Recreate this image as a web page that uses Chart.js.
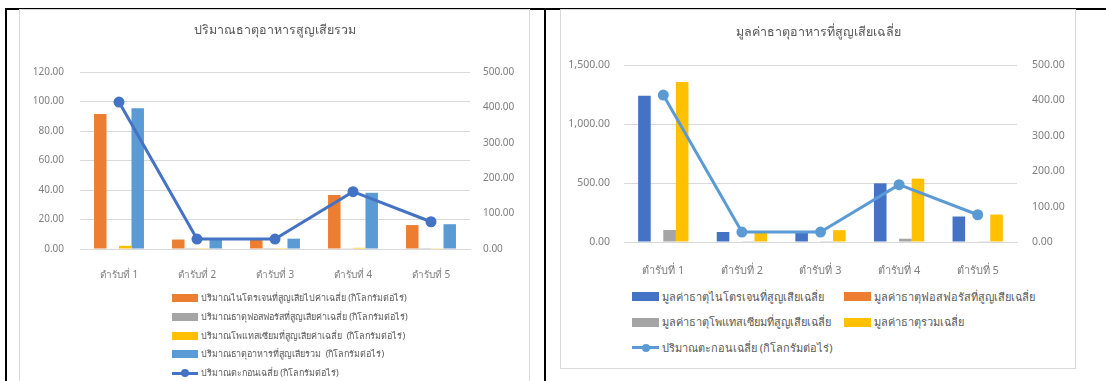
<!DOCTYPE html>
<html>
<head>
<meta charset="utf-8">
<script src="https://cdn.jsdelivr.net/npm/chart.js@4.4.1/dist/chart.umd.min.js"></script>
<style>
  body { margin: 0; background: #fff; width: 1106px; height: 381px; overflow: hidden; position: relative;
         font-family: Tahoma, "Noto Sans", "DejaVu Sans", sans-serif; }
  .linha { position: absolute; background: #000; }
  .caixa { position: absolute; border: 1px solid #d9d9d9; box-sizing: border-box; background: #fff; }
  .caixa canvas { position: absolute; left: 0; top: 0; }
  .legenda { position: absolute; display: grid; color: #595959; }
  .item { display: flex; align-items: center; white-space: pre; }
  .cor { display: inline-block; margin-right: 3px; position: relative; flex: none; }
  .ponto { position: absolute; left: 50%; top: 50%; width: 8px; height: 8px; border-radius: 50%; transform: translate(-50%, -50%); }
</style>
</head>
<body>
<!-- moldura da tabela -->
<div class="linha" style="left:5px; top:8px; width:1101px; height:2px;"></div>
<div class="linha" style="left:5px; top:8px; width:2px; height:373px;"></div>
<div class="linha" style="left:544px; top:8px; width:2px; height:373px;"></div>

<div class="caixa" id="caixa1" style="left:19px; top:9px; width:511px; height:380px;">
  <canvas id="grafico1" width="509" height="280"></canvas>
  <div class="legenda" id="legenda1" style="left:152px; top:279px; grid-template-columns: auto; grid-auto-rows: 18.7px; font-size:9px;"></div>
</div>

<div class="caixa" id="caixa2" style="left:560px; top:9px; width:516px; height:360px;">
  <canvas id="grafico2" width="514" height="272"></canvas>
  <div class="legenda" id="legenda2" style="left:71px; top:274px; grid-template-columns: 212px auto; grid-auto-rows: 25.5px; font-size:11px;"></div>
</div>

<script>
const categorias = ['ตำรับที่ 1', 'ตำรับที่ 2', 'ตำรับที่ 3', 'ตำรับที่ 4', 'ตำรับที่ 5'];

// grafico 1 - quantidade perdida (kg/rai)
const nitrogenioQtd = [91.5, 6.4, 7.3, 36.6, 16.2];
const fosforoQtd = [0.3, 0.1, 0.1, 0.2, 0.1];
const potassioQtd = [2.2, 0.1, 0.1, 0.8, 0.2];
const totalQtd = [95.4, 6.7, 7.0, 38.1, 16.8];
const sedimento = [415, 28, 28, 162, 77];

// grafico 2 - valor perdido
const nitrogenioValor = [1239, 85, 85, 497, 216];
const fosforoValor = [0, 0, 0, 0, 0];
const potassioValor = [102, 2, 2, 28, 6];
const totalValor = [1355, 88, 100, 537, 233];

const ticksEsq1 = [0, 20, 40, 60, 80, 100, 120];
const ticksEsq2 = [0, 500, 1000, 1500];
const ticksDir = [0, 100, 200, 300, 400, 500];

const fonte = 'Tahoma, "Noto Sans", "DejaVu Sans", sans-serif';
Chart.defaults.font.family = fonte;
Chart.defaults.color = '#7f7f7f';

function formatar(v) {
    return Number(v).toLocaleString('en-US', { minimumFractionDigits: 2, maximumFractionDigits: 2 });
}

function barra(label, data, cor) {
    return { type: 'bar', label, data, backgroundColor: cor, yAxisID: 'y', order: 1,
             categoryPercentage: 0.64, barPercentage: 1.0 };
}

function linha(label, data, cor) {
    return { type: 'line', label, data, borderColor: cor, backgroundColor: cor, yAxisID: 'y1', order: 0,
             borderWidth: 3, pointRadius: 4, pointHoverRadius: 4, tension: 0 };
}

function montarOpcoes(titulo, tp, cfg) {
    return {
        responsive: false,
        animation: false,
        plugins: {
            legend: { display: false },
            tooltip: { enabled: false },
            title: {
                display: true, text: titulo, color: '#595959',
                font: { size: 12.5, weight: 'normal' },
                padding: { top: tp.top, bottom: tp.bottom }
            }
        },
        scales: {
            x: {
                grid: { display: false },
                border: { display: true, color: '#d9d9d9' },
                ticks: { padding: cfg.xPad, font: { size: cfg.fx }, color: '#7f7f7f' },
                afterFit: s => { s.height = cfg.xAltura; }
            },
            y: {
                position: 'left',
                min: 0, max: cfg.maxEsq,
                afterBuildTicks: s => { s.ticks = cfg.ticksEsq.map(v => ({ value: v })); },
                grid: { color: '#d9d9d9', drawTicks: false },
                border: { display: false },
                ticks: { padding: cfg.yPadEsq, font: { size: cfg.fy }, callback: formatar },
                afterFit: s => { s.width = cfg.larguraEsq; }
            },
            y1: {
                position: 'right',
                min: 0, max: 500,
                afterBuildTicks: s => { s.ticks = ticksDir.map(v => ({ value: v })); },
                grid: { display: false, drawTicks: false },
                border: { display: false },
                ticks: { padding: cfg.yPadDir, font: { size: cfg.fy }, callback: formatar },
                afterFit: s => { s.width = cfg.larguraDir; }
            }
        }
    };
}

function montarLegenda(id, datasets, tam) {
    const box = document.getElementById(id);
    datasets.forEach(ds => {
        const item = document.createElement('div');
        item.className = 'item';
        const cor = document.createElement('span');
        cor.className = 'cor';
        cor.style.width = tam.w + 'px';
        cor.style.height = tam.h + 'px';
        if (ds.type === 'line') {
            cor.innerHTML = `<span style="position:absolute;left:0;right:0;top:50%;height:3px;margin-top:-1.5px;background:${ds.borderColor}"></span>` +
                            `<span class="ponto" style="background:${ds.borderColor}"></span>`;
        } else {
            cor.style.background = ds.backgroundColor;
        }
        item.appendChild(cor);
        const txt = document.createElement('span');
        txt.textContent = ds.label;
        item.appendChild(txt);
        box.appendChild(item);
    });
}

window.onload = () => {
    const ds1 = [
        barra('ปริมาณไนโตรเจนที่สูญเสียไปค่าเฉลี่ย (กิโลกรัมต่อไร่)', nitrogenioQtd, '#ED7D31'),
        barra('ปริมาณธาตุฟอสฟอรัสที่สูญเสียค่าเฉลี่ย (กิโลกรัมต่อไร่)', fosforoQtd, '#A5A5A5'),
        barra('ปริมาณโพแทสเซียมที่สูญเสียค่าเฉลี่ย  (กิโลกรัมต่อไร่)', potassioQtd, '#FFC000'),
        barra('ปริมาณธาตุอาหารที่สูญเสียรวม  (กิโลกรัมต่อไร่)', totalQtd, '#5B9BD5'),
        linha('ปริมาณตะกอนเฉลี่ย (กิโลกรัมต่อไร่)', sedimento, '#4472C4')
    ];
    new Chart(document.getElementById('grafico1'), {
        data: { labels: categorias, datasets: ds1 },
        options: montarOpcoes('ปริมาณธาตุอาหารสูญเสียรวม', { top: 13, bottom: 34 }, {
            xPad: 12, xAltura: 41, fx: 10, fy: 10, maxEsq: 120, ticksEsq: ticksEsq1,
            yPadEsq: 16, yPadDir: 13, larguraEsq: 60, larguraDir: 59
        })
    });
    montarLegenda('legenda1', ds1, { w: 26, h: 8 });

    const ds2 = [
        barra('มูลค่าธาตุไนโตรเจนที่สูญเสียเฉลี่ย', nitrogenioValor, '#4472C4'),
        barra('มูลค่าธาตุฟอสฟอรัสที่สูญเสียเฉลี่ย', fosforoValor, '#ED7D31'),
        barra('มูลค่าธาตุโพแทสเซียมที่สูญเสียเฉลี่ย', potassioValor, '#A5A5A5'),
        barra('มูลค่าธาตุรวมเฉลี่ย', totalValor, '#FFC000'),
        linha('ปริมาณตะกอนเฉลี่ย (กิโลกรัมต่อไร่)', sedimento, '#5B9BD5')
    ];
    new Chart(document.getElementById('grafico2'), {
        data: { labels: categorias, datasets: ds2 },
        options: montarOpcoes('มูลค่าธาตุอาหารที่สูญเสียเฉลี่ย', { top: 15, bottom: 25 }, {
            xPad: 14, xAltura: 40, fx: 11, fy: 10.5, maxEsq: 1500, ticksEsq: ticksEsq2,
            yPadEsq: 14, yPadDir: 15, larguraEsq: 63, larguraDir: 58
        })
    });
    montarLegenda('legenda2', ds2, { w: 27, h: 9 });
};
</script>
</body>
</html>
